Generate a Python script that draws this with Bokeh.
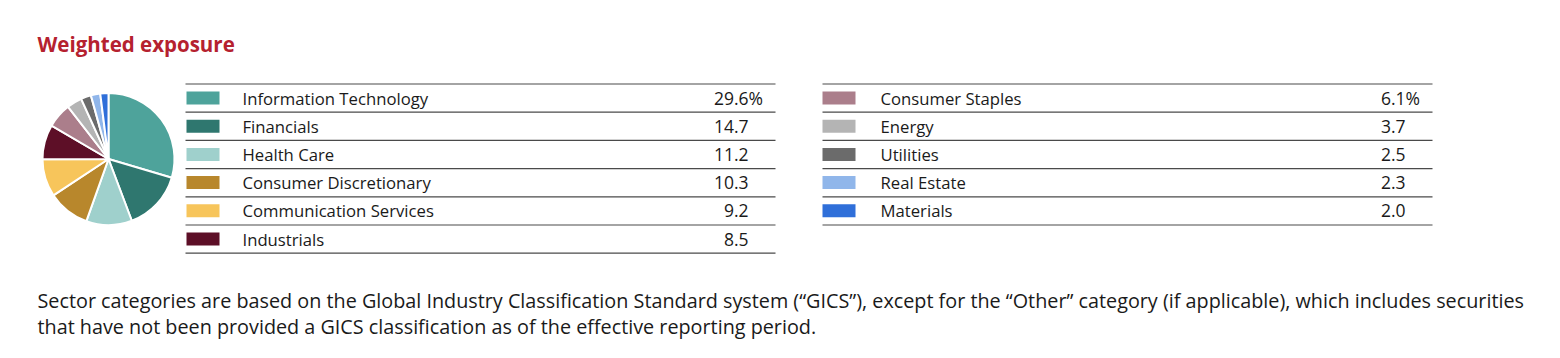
import math
from bokeh.plotting import figure
from bokeh.models import Range1d
from bokeh.core.properties import value
from bokeh.embed import file_html
from bokeh.resources import INLINE

# ---- data ----
sectors = ["Information Technology", "Financials", "Health Care", "Consumer Discretionary",
           "Communication Services", "Industrials", "Consumer Staples", "Energy",
           "Utilities", "Real Estate", "Materials"]
weights = [29.6, 14.7, 11.2, 10.3, 9.2, 8.5, 6.1, 3.7, 2.5, 2.3, 2.0]
labels = ["29.6%", "14.7", "11.2", "10.3", "9.2", "8.5", "6.1%", "3.7", "2.5", "2.3", "2.0"]
colors = ["#4ea39b", "#2f776f", "#9fd0cc", "#b8872c", "#f7c55b", "#5d0f27",
          "#ab7e8b", "#b4b4b4", "#6b6b6b", "#90b6ea", "#2f6fd9"]
title = "Weighted exposure"
footnote = ["Sector categories are based on the Global Industry Classification Standard system (\u201cGICS\u201d), except for the \u201cOther\u201d category (if applicable), which includes securities",
            "that have not been provided a GICS classification as of the effective reporting period."]

FONT = "Open Sans"
W, H = 1544, 342
p = figure(width=W, height=H, output_backend="svg", toolbar_location=None,
           x_range=Range1d(0, W), y_range=Range1d(-H, 0),
           min_border=0, outline_line_color=None)
p.axis.visible = False
p.grid.visible = False
p.background_fill_color = "white"
p.border_fill_color = "white"

# title
p.text(x=[37], y=[-43], text=[title], text_font=value(FONT), text_font_size="20.5px",
       text_font_style="bold", text_color="#b5212f", text_baseline="middle")

# pie
total = sum(weights)
cx, cy, r = 108, -158.5, 66
starts, ends = [], []
acc = 0.0
for w in weights:
    starts.append(math.pi / 2 - 2 * math.pi * acc / total)
    acc += w
    ends.append(math.pi / 2 - 2 * math.pi * acc / total)
p.wedge(x=[cx] * len(weights), y=[cy] * len(weights), radius=r,
        start_angle=starts, end_angle=ends, direction="clock",
        fill_color=colors, line_color="white", line_width=2)

# tables
row_h = 28.2
tables = [(0, 6, 185, 775, 186, 242, 748), (6, 11, 822, 1432, 822, 880, 1405)]
for (a, b, x0, x1, sw_x, tx, vx) in tables:
    n = b - a
    ys_line = [-(83.5 + row_h * k) for k in range(n + 1)]
    p.segment(x0=[x0] * (n + 1), x1=[x1] * (n + 1), y0=ys_line, y1=ys_line,
              line_color="#4a4a4a", line_width=1.2)
    yc = [-(97.5 + row_h * i) for i in range(n)]
    p.rect(x=[sw_x + 16.5] * n, y=yc, width=33, height=13,
           fill_color=colors[a:b], line_color=None)
    p.text(x=[tx] * n, y=yc, text=sectors[a:b], text_font=value(FONT),
           text_font_size="16.7px", text_color="#1a1a1a", text_baseline="middle")
    vals = labels[a:b]
    nums = [v.rstrip("%") for v in vals]
    p.text(x=[vx] * n, y=yc, text=nums, text_font=value(FONT),
           text_font_size="17.5px", text_color="#1a1a1a", text_baseline="middle",
           text_align="right")
    pct = [("%" if v.endswith("%") else "") for v in vals]
    p.text(x=[vx] * n, y=yc, text=pct, text_font=value(FONT),
           text_font_size="17.5px", text_color="#1a1a1a", text_baseline="middle",
           text_align="left")

# footnote
p.text(x=[37, 37], y=[-300, -326], text=footnote, text_font=value(FONT),
       text_font_size="19.8px", text_color="#1a1a1a", text_baseline="middle")

open("out.html", "w").write(file_html(p, INLINE))
